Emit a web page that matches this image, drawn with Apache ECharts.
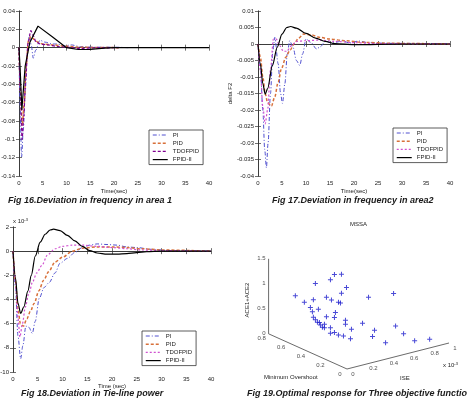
<!DOCTYPE html>
<html>
<head>
<meta charset="utf-8">
<script src="https://cdn.jsdelivr.net/npm/echarts@6/dist/echarts.min.js"></script>
<style>
  html, body { margin: 0; padding: 0; background: #fff; }
  #chart { width: 467px; height: 404px; }
</style>
</head>
<body>
<div id="chart"></div>
<script>
// ---- Fig 16: deviation in frequency, area 1 ----
const f1PiT = [0, 0.2, 0.55, 0.9, 1.3, 1.7, 2.2, 2.6, 3.0, 3.5, 4.4, 5.5, 7, 8, 9.5, 11, 13, 16, 20, 23];
const f1PiV = [0, -0.06, -0.119, -0.09, -0.05, -0.01, 0.014, 0.002, -0.0115, -0.003, 0.008, 0.006, 0.004, 0.004, 0.002, 0.003, 0.001, 0.0005, 0.0005, 0];
const f1PidT = [0, 0.3, 0.7, 1.1, 1.5, 2.0, 2.5, 3.2, 4, 5, 7, 10, 13, 16, 21];
const f1PidV = [0, -0.045, -0.085, -0.06, -0.02, 0.008, 0.012, 0.009, 0.006, 0.004, 0.003, 0.0015, 0.0005, 0.0002, 0];
const f1TdT = [0, 0.3, 0.65, 1.0, 1.4, 1.9, 2.5, 3.0, 3.6, 4.5, 6, 8, 10, 13, 16, 21];
const f1TdV = [0, -0.05, -0.1, -0.075, -0.035, 0.005, 0.0185, 0.013, 0.006, 0.004, 0.003, 0.0015, 0.0005, -0.0008, -0.0003, 0];
const f1FpT = [0, 0.3, 0.6, 1.3, 2.3, 4.0, 7, 10, 12.5, 15, 18, 20, 30, 40];
const f1FpV = [0, -0.03, -0.068, -0.02, 0.006, 0.0235, 0.012, 0, -0.002, -0.0018, -0.0005, 0, 0, 0];

// ---- Fig 17: deviation in frequency, area 2 ----
const f2PiT = [0, 0.5, 1.0, 1.4, 1.75, 2.1, 2.6, 3.1, 3.5, 4.2, 4.7, 5.1, 5.6, 6.1, 6.6, 7.3, 8.0, 8.7, 9.3, 10, 11, 12.2, 13, 14, 15.5, 16.5, 17.5, 19, 21, 23, 27, 40];
const f2PiV = [0, -0.007, -0.02, -0.032, -0.0375, -0.03, -0.015, -0.002, 0.002, -0.006, -0.015, -0.018, -0.012, -0.003, 0.001, -0.001, -0.005, -0.0065, -0.003, 0.0015, 0.0005, -0.0015, -0.0008, 0.0008, 0.0003, 0.0006, 0.0011, 0.0003, 0.0009, 0.0004, 0.0002, 0.0001];
const f2PidT = [0, 0.5, 1.0, 1.5, 2.0, 2.8, 3.5, 4.2, 4.9, 5.8, 6.7, 7.6, 8.4, 9.5, 11, 13, 15, 18, 22, 28, 40];
const f2PidV = [0, -0.004, -0.01, -0.015, -0.0178, -0.0188, -0.016, -0.0115, -0.0074, -0.004, -0.0018, 0.0002, 0.0017, 0.003, 0.0028, 0.002, 0.0015, 0.001, 0.0005, 0.0002, 0];
const f2TdT = [0, 0.5, 1.0, 1.5, 2.0, 2.6, 3.2, 3.8, 4.5, 5.3, 6.0, 7.0, 8.0, 10, 13, 16, 20, 25, 40];
const f2TdV = [0, -0.008, -0.019, -0.0242, -0.02, -0.008, 0.0015, 0.0015, -0.0005, -0.0022, -0.0022, -0.0005, 0.0008, 0.001, 0.0012, 0.0008, 0.0004, 0.0001, 0];
const f2FpT = [0, 0.5, 1.0, 1.5, 2.0, 3.0, 4.0, 5.0, 6.0, 6.8, 8, 10, 12, 14, 16, 20, 30, 40];
const f2FpV = [0, -0.006, -0.012, -0.0152, -0.0135, -0.0065, -0.001, 0.003, 0.005, 0.0053, 0.0048, 0.0032, 0.0018, 0.0008, 0.0001, -0.0002, 0, 0];

// ---- Fig 18: deviation in tie-line power (x 10^-3) ----
const f3PiT = [0, 0.5, 1.0, 1.55, 2.0, 2.6, 3.2, 3.9, 4.5, 5.3, 6.3, 7.3, 8.5, 9.5, 11, 12.5, 14, 15.5, 17, 19, 21, 23, 25, 28, 32, 40];
const f3PiV = [0, -3, -7, -8.9, -7.8, -6.2, -6.3, -6.8, -5.8, -3.9, -3.0, -2.6, -1.8, -1.0, -0.6, -0.1, 0.3, 0.5, 0.6, 0.55, 0.5, 0.35, 0.3, 0.15, 0.05, 0];
const f3PidT = [0, 0.5, 1.0, 1.5, 2.1, 2.8, 3.5, 4.3, 5.2, 6.2, 7.2, 8.5, 10, 12, 14, 17, 20, 23, 26, 30, 40];
const f3PidV = [0, -2.5, -4.8, -6.0, -6.2, -5.6, -5.0, -4.3, -3.3, -2.4, -1.7, -0.9, -0.5, 0, 0.25, 0.35, 0.35, 0.3, 0.2, 0.1, 0];
const f3TdT = [0, 0.5, 1.0, 1.4, 1.9, 2.5, 3.2, 4.0, 4.8, 5.8, 7.0, 8.5, 10, 12, 14, 17, 20, 23, 26, 30, 40];
const f3TdV = [0, -2.5, -5.5, -7.1, -6.0, -4.6, -3.5, -2.5, -1.8, -1.2, -0.3, 0.2, 0.4, 0.5, 0.5, 0.4, 0.3, 0.2, 0.1, 0.05, 0];
const f3FpT = [0, 0.5, 1.0, 1.55, 2.2, 3.0, 3.7, 4.5, 5.5, 6.5, 7.5, 8.2, 9.5, 11, 12.5, 14, 15.5, 17, 19, 21, 23, 25, 27, 30, 40];
const f3FpV = [0, -2.2, -4.3, -5.15, -4.6, -3.3, -2.0, -0.4, 0.75, 1.4, 1.75, 1.82, 1.7, 1.3, 0.85, 0.4, 0.05, -0.15, -0.25, -0.25, -0.2, -0.12, -0.05, 0, 0];

// ---- Fig 19: MSSA pareto points ----
const iseVals = [0.07, 0.12, 0.17, 0.18, 0.27, 0.29, 0.33, 0.36, 0.33, 0.25, 0.28, 0.32, 0.33, 0.16, 0.20, 0.17, 0.29, 0.25, 0.17, 0.19, 0.20, 0.21, 0.24, 0.22, 0.24, 0.27, 0.29, 0.35, 0.35, 0.27, 0.29, 0.31, 0.34, 0.38, 0.38, 0.48, 0.62, 0.45, 0.51, 0.50, 0.63, 0.67, 0.58, 0.74, 0.82, 0.21];
const moVals = [0.60, 0.56, 0.52, 0.51, 0.45, 0.43, 0.40, 0.38, 0.40, 0.47, 0.45, 0.42, 0.41, 0.54, 0.50, 0.53, 0.42, 0.47, 0.52, 0.52, 0.51, 0.49, 0.48, 0.48, 0.48, 0.45, 0.43, 0.38, 0.38, 0.45, 0.43, 0.41, 0.39, 0.36, 0.35, 0.28, 0.17, 0.31, 0.25, 0.26, 0.16, 0.12, 0.21, 0.08, 0.01, 0.50];
const aceVals = [0.90, 0.78, 0.84, 1.17, 1.25, 1.36, 1.37, 1.11, 0.99, 0.89, 0.84, 0.80, 0.79, 0.67, 0.65, 0.59, 0.61, 0.50, 0.49, 0.43, 0.38, 0.34, 0.35, 0.30, 0.28, 0.29, 0.50, 0.46, 0.38, 0.18, 0.20, 0.16, 0.14, 0.09, 0.29, 0.94, 1.04, 0.41, 0.29, 0.16, 0.39, 0.25, 0.04, 0.11, 0.16, 0.38];
const iseTicks = [0, 0.2, 0.4, 0.6, 0.8, 1];
const moTicks = [0, 0.2, 0.4, 0.6, 0.8];
const aceTicks = [0, 0.5, 1, 1.5];

const FONT = 'Liberation Sans, Arial, sans-serif';
const AXC = '#333';

// 3D view used for the last panel (pixel placement of the axes box)
const VIEW = { ox: 347, oy: 369, ise: [102, -26], mo: [-98, -44], z: [0, -50] };
function project(ise, mo, z) {
    return [
        VIEW.ox + ise * VIEW.ise[0] + mo * VIEW.mo[0] + z * VIEW.z[0],
        VIEW.oy + ise * VIEW.ise[1] + mo * VIEW.mo[1] + z * VIEW.z[1]
    ];
}

function pairs(t, v) {
    return t.map((x, i) => [x, v[i]]);
}

function num(v) {
    return String(+v.toFixed(4));
}

const styles = {
    PI: { color: '#5050d0', type: [4, 2, 1, 2], width: 1 },
    PID: { color: '#d8703a', type: [3, 2], width: 1.5 },
    TD1: { color: '#800090', type: [3, 2], width: 1.2 },
    TD2: { color: '#d050d0', type: [2, 2], width: 1.2 },
    FP: { color: '#000000', type: 'solid', width: 1.2 }
};

function lineSeries(name, data, st, idx) {
    return {
        name: name, type: 'line', data: data, xAxisIndex: idx, yAxisIndex: idx,
        symbol: 'none', smooth: 0.3, smoothMonotone: 'x', silent: true,
        color: st.color,
        lineStyle: { color: st.color, type: st.type, width: st.width }
    };
}

function boxAxes(idx, xcfg, ycfg) {
    const tick = { show: true, inside: true, length: 3, lineStyle: { color: AXC, width: 0.7 } };
    const line = { show: true, lineStyle: { color: AXC, width: 0.8 } };
    const lab = { fontSize: 6, color: '#222', fontFamily: FONT };
    const xs = [
        Object.assign({ type: 'value', gridIndex: idx, position: 'bottom', axisLine: line, axisTick: tick,
            splitLine: { show: false }, axisLabel: Object.assign({ margin: 4 }, lab) }, xcfg),
        Object.assign({ type: 'value', gridIndex: idx, position: 'top', axisLine: line, axisTick: tick,
            splitLine: { show: false }, axisLabel: { show: false } }, xcfg, { name: '' })
    ];
    const ys = [
        Object.assign({ type: 'value', gridIndex: idx, position: 'left', axisLine: line, axisTick: tick,
            splitLine: { show: false }, axisLabel: Object.assign({ margin: 4, formatter: num }, lab) }, ycfg),
        Object.assign({ type: 'value', gridIndex: idx, position: 'right', axisLine: line, axisTick: tick,
            splitLine: { show: false }, axisLabel: { show: false } }, ycfg, { name: '' })
    ];
    return { xs: xs, ys: ys };
}

const timeAxis = {
    min: 0, max: 40, interval: 5,
    nameLocation: 'middle', nameGap: 12,
    nameTextStyle: { fontSize: 6, color: '#222', fontFamily: FONT }
};

const a1 = boxAxes(0, Object.assign({}, timeAxis, { name: 'Time(sec)' }), { min: -0.14, max: 0.04, interval: 0.02 });
const a2 = boxAxes(1, Object.assign({}, timeAxis, { name: 'Time(sec)' }), {
    min: -0.04, max: 0.01, interval: 0.005, name: 'delta F2', nameLocation: 'middle', nameGap: 20,
    nameTextStyle: { fontSize: 6, color: '#222', fontFamily: FONT }
});
const a3 = boxAxes(2, Object.assign({}, timeAxis, { name: 'Time (sec)', nameGap: 11 }), { min: -10, max: 2, interval: 2 });

const grids = [
    { left: 19, top: 11, width: 190, height: 165 },
    { left: 258, top: 11, width: 192, height: 165 },
    { left: 13, top: 227, width: 198, height: 145 },
    { left: 232, top: 205, width: 235, height: 190 }
].map(g => Object.assign({ outerBoundsMode: 'none', containLabel: false }, g));

const xAxes = [].concat(a1.xs, a2.xs, a3.xs, [{ type: 'value', gridIndex: 3, min: 232, max: 467, show: false }]);
const yAxes = [].concat(a1.ys, a2.ys, a3.ys, [{ type: 'value', gridIndex: 3, min: 205, max: 395, inverse: true, show: false }]);

// x axis index per panel: 0, 2, 4 (bottom axes), y likewise
const series = [
    lineSeries('PI', pairs(f1PiT, f1PiV), styles.PI, 0),
    lineSeries('PID', pairs(f1PidT, f1PidV), styles.PID, 0),
    lineSeries('TDOFPID', pairs(f1TdT, f1TdV), styles.TD1, 0),
    lineSeries('FPID-II', pairs(f1FpT, f1FpV), styles.FP, 0),
    lineSeries('PI', pairs(f2PiT, f2PiV), styles.PI, 2),
    lineSeries('PID', pairs(f2PidT, f2PidV), styles.PID, 2),
    lineSeries('TDOFPID', pairs(f2TdT, f2TdV), styles.TD2, 2),
    lineSeries('FPID-II', pairs(f2FpT, f2FpV), styles.FP, 2),
    lineSeries('PI', pairs(f3PiT, f3PiV), styles.PI, 4),
    lineSeries('PID', pairs(f3PidT, f3PidV), styles.PID, 4),
    lineSeries('TDOFPID', pairs(f3TdT, f3TdV), styles.TD2, 4),
    lineSeries('FPID-II', pairs(f3FpT, f3FpV), styles.FP, 4)
];
// panel 1 black is piecewise straight
series[3].smooth = false;

// 3D panel: axes lines
const axisLine3d = (pts) => ({
    type: 'line', xAxisIndex: 6, yAxisIndex: 6, silent: true, symbol: 'none',
    data: pts.map(p => project(p[0], p[1], p[2])),
    lineStyle: { color: '#444', width: 0.8 }
});
series.push(axisLine3d([[0, 0, 0], [1, 0, 0]]));
series.push(axisLine3d([[0, 0, 0], [0, 0.8, 0]]));
series.push(axisLine3d([[0, 0.8, 0], [0, 0.8, 1.5]]));

// 3D panel: tick labels
function tickLabels(vals, fn, offset, align) {
    return {
        type: 'scatter', xAxisIndex: 6, yAxisIndex: 6, silent: true, symbolSize: 0.1,
        itemStyle: { color: 'rgba(0,0,0,0)' },
        data: vals.map(v => ({ name: String(v), value: fn(v) })),
        label: {
            show: true, position: 'inside', offset: offset, align: align, verticalAlign: 'middle',
            formatter: p => p.name, fontSize: 6, color: '#222', fontFamily: FONT
        }
    };
}
series.push(tickLabels(iseTicks, v => project(v, 0, 0), [6, 5], 'center'));
series.push(tickLabels(moTicks, v => project(0, v, 0), [-7, 5], 'center'));
series.push(tickLabels(aceTicks, v => project(0, 0.8, v), [-3, 0], 'right'));

// 3D panel: the points
series.push({
    type: 'scatter', xAxisIndex: 6, yAxisIndex: 6, silent: true,
    symbol: 'path://M4,0H6V4H10V6H6V10H4V6H0V4H4Z', symbolSize: 5,
    itemStyle: { color: '#1c1ccc' },
    data: iseVals.map((v, i) => project(v, moVals[i], aceVals[i]))
});

function legendBox(left, top, td) {
    const hide = { opacity: 0, borderWidth: 0 };
    return {
        left: left, top: top, orient: 'vertical', selectedMode: false,
        itemWidth: 15, itemHeight: 6, itemGap: 2.2, padding: [2, 4, 2, 3],
        borderColor: '#333', borderWidth: 0.8, borderRadius: 0, backgroundColor: '#fff',
        textStyle: { fontSize: 6, color: '#222', fontFamily: FONT },
        data: [
            { name: 'PI', itemStyle: hide, lineStyle: { color: styles.PI.color, type: styles.PI.type, width: 1 } },
            { name: 'PID', itemStyle: hide, lineStyle: { color: styles.PID.color, type: styles.PID.type, width: 1.5 } },
            { name: 'TDOFPID', itemStyle: hide, lineStyle: { color: td.color, type: td.type, width: 1.2 } },
            { name: 'FPID-II', itemStyle: hide, lineStyle: { color: '#000', type: 'solid', width: 1.2 } }
        ]
    };
}

const capStyle = {
    fontSize: 9, color: '#1a1a1a', fontFamily: FONT,
    rich: {
        b: { fontSize: 9, fontWeight: 'bold', fontStyle: 'italic', fontFamily: FONT, color: '#1a1a1a' },
        i: { fontSize: 9, fontStyle: 'italic', fontFamily: FONT, color: '#1a1a1a' }
    }
};
const caption = (left, top, fig, txt) => ({
    left: left, top: top, padding: 0, text: '{b|' + fig + '}{i|' + txt + '}', textStyle: capStyle
});

const chart = echarts.init(document.getElementById('chart'));
chart.setOption({
    animation: false,
    backgroundColor: '#fff',
    title: [
        caption(8, 196, 'Fig 16.', 'Deviation in frequency in area 1'),
        caption(272, 196, 'Fig 17.', 'Deviation in frequency in area2'),
        caption(21, 389, 'Fig 18.', 'Deviation in Tie-line power'),
        caption(247, 389, 'Fig 19.', 'Optimal response for Three objective function'),
        { left: 350, top: 221, padding: 0, text: 'MSSA', textStyle: { fontSize: 6, fontWeight: 'normal', color: '#222', fontFamily: FONT } }
    ],
    legend: [
        legendBox(149, 130, styles.TD1),
        legendBox(393, 128, styles.TD2),
        legendBox(142, 331, styles.TD2)
    ],
    grid: grids,
    xAxis: xAxes,
    yAxis: yAxes,
    series: series,
    graphic: [
        { type: 'text', left: 13, top: 218, style: { text: 'x 10{s|-3}', fontSize: 6, fill: '#222', fontFamily: FONT, rich: { s: { fontSize: 4, verticalAlign: 'top', fill: '#222' } } } },
        { type: 'text', left: 443, top: 362, style: { text: 'x 10{s|-3}', fontSize: 6, fill: '#222', fontFamily: FONT, rich: { s: { fontSize: 4, verticalAlign: 'top', fill: '#222' } } } },
        { type: 'text', left: 264, top: 374, style: { text: 'Minimum Overshoot', fontSize: 6, fill: '#222', fontFamily: FONT } },
        { type: 'text', left: 400, top: 375, style: { text: 'ISE', fontSize: 6, fill: '#222', fontFamily: FONT } },
        { type: 'text', x: 247, y: 300, rotation: Math.PI / 2, style: { text: 'ACE1+ACE2', fontSize: 6, fill: '#222', fontFamily: FONT, align: 'center', verticalAlign: 'middle' } }
    ]
});
</script>
</body>
</html>
